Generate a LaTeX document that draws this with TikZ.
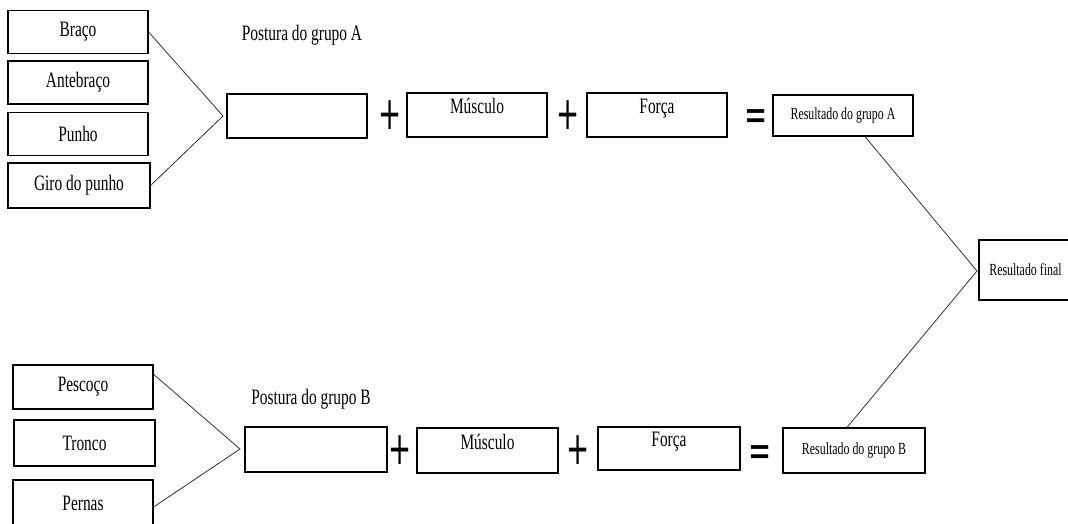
\documentclass[tikz,border=0pt]{standalone}
\usepackage{fontspec}
\newfontfamily\narrowserif{Liberation Serif}[FakeStretch=0.7]
\newfontfamily\narrowsign{DejaVu Sans}[FakeStretch=0.6]
\usetikzlibrary{positioning}

\begin{document}
\begin{tikzpicture}[x=1pt, y=-1pt,
    part/.style={draw, line width=1.2pt, minimum width=140pt, minimum height=43pt,
        inner sep=0pt, font=\narrowserif\fontsize{22}{24}\selectfont},
    term/.style={part, minimum height=44pt, text depth=18pt},
    result/.style={part, font=\narrowserif\fontsize{17}{19}\selectfont},
    sign/.style={inner sep=0pt, font=\narrowsign\fontsize{46}{48}\selectfont},
    title/.style={inner sep=0pt, font=\narrowserif\fontsize{22}{24}\selectfont},
    link/.style={draw=black!80, line width=0.8pt}]

\useasboundingbox (0,0) rectangle (1068,524);

\node[part] (braco) at (78,32) {Braço};
\node[part] (antebraco) at (78,82.5) {Antebraço};
\node[part] (punho) at (78,134) {Punho};
\node[part, minimum width=142pt, minimum height=45pt] (giro) at (79,185.5) {Giro do punho};

\node[title] (titleA) at (302,35) {Postura do grupo A};
\node[part, minimum height=44pt] (postA) at (297,116) {};
\node[sign] (plusA) at (390,115) {+};
\node[term] (musculoA) at (477,115) {Músculo};
\node[sign] (plusAA) at (568,115) {+};
\node[term] (forcaA) at (657,115) {Força};
\node[sign] (eqA) at (756,120) {=};
\node[result, minimum height=41pt] (resA) at (843,115.5) {Resultado do grupo A};

\node[result, minimum width=93pt, minimum height=60pt] (final) at (1025.5,270) {Resultado final};

\node[part, minimum height=44pt] (pescoco) at (83,387) {Pescoço};
\node[part, minimum width=141pt, minimum height=46pt] (tronco) at (84.5,443) {Tronco};
\node[part, minimum height=46pt] (pernas) at (83,503) {Pernas};

\node[title] (titleB) at (311,399) {Postura do grupo B};
\node[part, minimum width=142pt, minimum height=45pt] (postB) at (316,449.5) {};
\node[sign] (plusB) at (400,450) {+};
\node[term, minimum width=141pt, minimum height=45pt] (musculoB) at (487.5,450.5) {Músculo};
\node[sign] (plusBB) at (578,450) {+};
\node[term, minimum width=142pt, minimum height=43pt] (forcaB) at (669,448.5) {Força};
\node[sign] (eqB) at (760,456) {=};
\node[result, minimum width=142pt, minimum height=45pt] (resB) at (854,450.5) {Resultado do grupo B};

\coordinate (joinA) at (223,116);
\coordinate (joinB) at (240,449);
\coordinate (joinF) at (977,271);

\draw[link] (braco.east) -- (joinA) -- (giro.east);
\draw[link] ([yshift=-10pt]pescoco.north east) -- (joinB) -- ([yshift=-4pt]pernas.east);
\draw[link] ([xshift=22pt]resA.south) -- (joinF) -- ([xshift=-7pt]resB.north);

\end{tikzpicture}
\end{document}
